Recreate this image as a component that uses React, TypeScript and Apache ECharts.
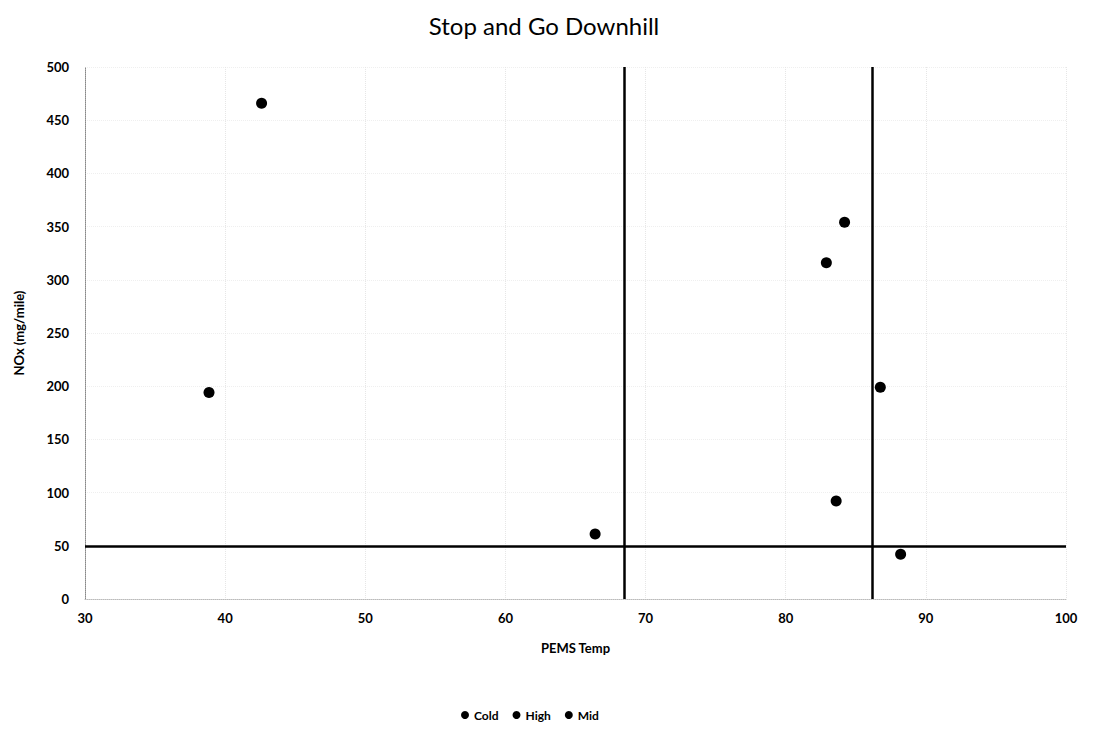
import React, { useEffect, useRef } from "react";
import * as echarts from "echarts";

const seriesNames = ["Cold", "High", "Mid"];
const coldPoints: number[][] = [
  [38.85, 194],
  [42.6, 466],
  [66.4, 61],
];
const highPoints: number[][] = [
  [86.75, 199],
  [88.2, 42],
];
const midPoints: number[][] = [
  [82.9, 316],
  [83.6, 92],
  [84.2, 354],
];
const thresholdsX = [68.5, 86.2];
const thresholdY = 50;

export default function App() {
  const ref = useRef<HTMLDivElement>(null);
  useEffect(() => {
    if (!ref.current) return;
    const chart = echarts.init(ref.current, undefined, { renderer: "svg" });
    const font = "Lato, 'Open Sans', sans-serif";
    const pts = [coldPoints, highPoints, midPoints];
    const series: any[] = seriesNames.map((name, i) => ({
      name,
      type: "scatter",
      data: pts[i],
      symbol: "circle",
      symbolSize: 11,
      itemStyle: { color: "#000", opacity: 1 },
    }));
    series[0].markLine = {
      silent: true,
      symbol: "none",
      label: { show: false },
      lineStyle: { color: "#000", width: 2.5, type: "solid", opacity: 1 },
      data: [
        ...thresholdsX.map((v) => ({ xAxis: v })),
        { yAxis: thresholdY },
      ],
    };
    chart.setOption({
      animation: false,
      backgroundColor: "#fff",
      title: {
        text: "Stop and Go Downhill",
        left: 539,
        textAlign: "center",
        top: 8,
        textStyle: { fontFamily: font, fontSize: 24, fontWeight: "normal", color: "#000" },
      },
      grid: { left: 85, right: 28, top: 67, bottom: 136 },
      legend: {
        data: seriesNames,
        bottom: 9,
        left: 456,
        icon: "circle",
        itemWidth: 8,
        itemHeight: 8,
        itemGap: 14,
        textStyle: { fontFamily: font, fontSize: 12, color: "#000", fontWeight: "bold" },
      },
      xAxis: {
        type: "value",
        min: 30,
        max: 100,
        interval: 10,
        name: "PEMS Temp",
        nameLocation: "middle",
        nameGap: 42,
        nameTextStyle: { fontFamily: font, fontSize: 13, color: "#000", fontWeight: "bold" },
        axisLine: { show: true, lineStyle: { color: "#bbb", type: "dotted", width: 1 } },
        axisTick: { show: false },
        axisLabel: { fontFamily: font, fontSize: 13, color: "#000", fontWeight: "bold", margin: 12 },
        splitLine: { show: true, lineStyle: { color: "#e6e6e6", type: "dotted" } },
      },
      yAxis: {
        type: "value",
        min: 0,
        max: 500,
        interval: 50,
        name: "NOx (mg/mile)",
        nameLocation: "middle",
        nameGap: 60,
        nameTextStyle: { fontFamily: font, fontSize: 13, color: "#000", fontWeight: "bold" },
        axisLine: { show: true, lineStyle: { color: "#888", type: "dotted", width: 1 } },
        axisTick: { show: false },
        axisLabel: { fontFamily: font, fontSize: 13, color: "#000", fontWeight: "bold", margin: 16 },
        splitLine: { show: true, lineStyle: { color: "#efefef", type: "dotted" } },
      },
      series,
    });
    return () => chart.dispose();
  }, []);
  return <div ref={ref} style={{ width: 1094, height: 735, position: "absolute", left: 0, top: 0 }} />;
}
